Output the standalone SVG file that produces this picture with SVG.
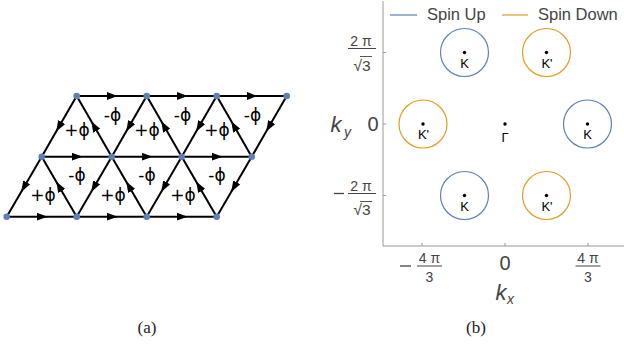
<svg xmlns="http://www.w3.org/2000/svg" width="624" height="352" viewBox="0 0 624 352">
<defs>
<marker id="arr" viewBox="0 0 11 8" refX="5" refY="4" markerWidth="11" markerHeight="8" markerUnits="userSpaceOnUse" orient="auto">
<path d="M0,0 L11,4 L0,8 Z" fill="#000"/>
</marker>
</defs>
<style>
.e{stroke:#000;stroke-width:2;fill:none;marker-mid:url(#arr)}
.nd{fill:#5e81b5}
.ph{font-family:"DejaVu Sans",sans-serif;font-size:17px;text-anchor:middle;fill:#000}
.ax{stroke:#9a9a9a;stroke-width:1;fill:none}
.tl{font-family:"Liberation Sans",Arial,sans-serif;fill:#444;text-anchor:middle}
.up{stroke:#5e81b5;stroke-width:1.2;fill:none}
.dn{stroke:#e19c24;stroke-width:1.2;fill:none}
.pt{fill:#000}
.kl{font-family:"Liberation Sans",Arial,sans-serif;font-size:13px;fill:#000;text-anchor:middle}
.cap{font-family:"Liberation Serif","Times New Roman",serif;font-size:17px;fill:#222;text-anchor:middle}
</style>
<g id="connectors">
<path class="e" d="M76.7,96 L111.7,96 L146.7,96"/>
<path class="e" d="M146.7,96 L181.7,96 L216.7,96"/>
<path class="e" d="M216.7,96 L251.7,96 L286.7,96"/>
<path class="e" d="M41.7,156.7 L76.7,156.7 L111.7,156.7"/>
<path class="e" d="M111.7,156.7 L146.7,156.7 L181.7,156.7"/>
<path class="e" d="M181.7,156.7 L216.7,156.7 L251.7,156.7"/>
<path class="e" d="M6.7,216.7 L41.7,216.7 L76.7,216.7"/>
<path class="e" d="M76.7,216.7 L111.7,216.7 L146.7,216.7"/>
<path class="e" d="M146.7,216.7 L181.7,216.7 L216.7,216.7"/>
<path class="e" d="M76.7,96 L59.2,126.35 L41.7,156.7"/>
<path class="e" d="M146.7,96 L129.2,126.35 L111.7,156.7"/>
<path class="e" d="M216.7,96 L199.2,126.35 L181.7,156.7"/>
<path class="e" d="M286.7,96 L269.2,126.35 L251.7,156.7"/>
<path class="e" d="M41.7,156.7 L24.2,186.7 L6.7,216.7"/>
<path class="e" d="M111.7,156.7 L94.2,186.7 L76.7,216.7"/>
<path class="e" d="M181.7,156.7 L164.2,186.7 L146.7,216.7"/>
<path class="e" d="M251.7,156.7 L234.2,186.7 L216.7,216.7"/>
<path class="e" d="M111.7,156.7 L94.2,126.35 L76.7,96"/>
<path class="e" d="M181.7,156.7 L164.2,126.35 L146.7,96"/>
<path class="e" d="M251.7,156.7 L234.2,126.35 L216.7,96"/>
<path class="e" d="M76.7,216.7 L59.2,186.7 L41.7,156.7"/>
<path class="e" d="M146.7,216.7 L129.2,186.7 L111.7,156.7"/>
<path class="e" d="M216.7,216.7 L199.2,186.7 L181.7,156.7"/>
</g>
<g id="lattice-nodes">
<circle class="nd" cx="76.7" cy="96" r="3.3"/>
<circle class="nd" cx="146.7" cy="96" r="3.3"/>
<circle class="nd" cx="216.7" cy="96" r="3.3"/>
<circle class="nd" cx="286.7" cy="96" r="3.3"/>
<circle class="nd" cx="41.7" cy="156.7" r="3.3"/>
<circle class="nd" cx="111.7" cy="156.7" r="3.3"/>
<circle class="nd" cx="181.7" cy="156.7" r="3.3"/>
<circle class="nd" cx="251.7" cy="156.7" r="3.3"/>
<circle class="nd" cx="6.7" cy="216.7" r="3.3"/>
<circle class="nd" cx="76.7" cy="216.7" r="3.3"/>
<circle class="nd" cx="146.7" cy="216.7" r="3.3"/>
<circle class="nd" cx="216.7" cy="216.7" r="3.3"/>
</g>
<g id="flux-labels">
<text class="ph" x="77" y="135.5">+ϕ</text>
<text class="ph" x="147" y="135.5">+ϕ</text>
<text class="ph" x="217" y="135.5">+ϕ</text>
<text class="ph" x="112.5" y="120.5">-ϕ</text>
<text class="ph" x="182.5" y="120.5">-ϕ</text>
<text class="ph" x="252.5" y="120.5">-ϕ</text>
<text class="ph" x="77" y="180.5">-ϕ</text>
<text class="ph" x="147" y="180.5">-ϕ</text>
<text class="ph" x="217" y="180.5">-ϕ</text>
<text class="ph" x="43" y="200.5">+ϕ</text>
<text class="ph" x="113" y="200.5">+ϕ</text>
<text class="ph" x="183" y="200.5">+ϕ</text>
</g>
<g id="caption-a"><text class="cap" x="147" y="333">(a)</text></g>
<g id="plot-frame">
<path class="ax" d="M383,1 L383,246 L624,246"/>
<path class="ax" d="M383,52.5 h3 M383,124 h3 M383,195.5 h3 M422,246 v-3 M505,246 v-3 M588,246 v-3"/>
</g>
<g id="y-ticks">
<text class="tl" x="361" y="46" font-size="14">2 π</text>
<line x1="348" y1="48.5" x2="376" y2="48.5" stroke="#444" stroke-width="1"/>
<text class="tl" x="362" y="70.5" font-size="15.5">√3</text>
<line x1="360" y1="56.5" x2="372" y2="56.5" stroke="#444" stroke-width="0.9"/>
<text class="tl" x="373" y="131" font-size="20">0</text>
<line x1="334" y1="193.5" x2="344" y2="193.5" stroke="#444" stroke-width="1.3"/>
<text class="tl" x="361" y="190.5" font-size="14">2 π</text>
<line x1="348" y1="193.5" x2="376" y2="193.5" stroke="#444" stroke-width="1"/>
<text class="tl" x="362" y="215" font-size="15.5">√3</text>
<line x1="360" y1="201.5" x2="372" y2="201.5" stroke="#444" stroke-width="0.9"/>
<text class="tl" x="336" y="132" font-size="22" font-style="italic">k</text>
<text class="tl" x="347.5" y="137" font-size="14" font-style="italic">y</text>
</g>
<g id="x-ticks">
<line x1="400" y1="266" x2="411" y2="266" stroke="#444" stroke-width="1.3"/>
<text class="tl" x="429.5" y="263" font-size="14">4 π</text>
<line x1="417" y1="266" x2="442" y2="266" stroke="#444" stroke-width="1"/>
<text class="tl" x="429.5" y="282" font-size="14">3</text>
<text class="tl" x="505" y="270" font-size="20">0</text>
<text class="tl" x="588" y="263" font-size="14">4 π</text>
<line x1="575.5" y1="266" x2="600.5" y2="266" stroke="#444" stroke-width="1"/>
<text class="tl" x="588" y="282" font-size="14">3</text>
<text class="tl" x="501" y="300" font-size="22" font-style="italic">k</text>
<text class="tl" x="510.5" y="304" font-size="14" font-style="italic">x</text>
</g>
<g id="legend">
<line class="up" x1="390" y1="15" x2="417" y2="15"/>
<text class="tl" x="427" y="19.5" font-size="16.5" style="text-anchor:start">Spin Up</text>
<line class="dn" x1="502" y1="15" x2="528" y2="15"/>
<text class="tl" x="538" y="19.5" font-size="16.5" style="text-anchor:start">Spin Down</text>
</g>
<g id="K-top">
<circle class="up" cx="464.5" cy="52.5" r="24"/><circle class="pt" cx="464.5" cy="52.5" r="1.7"/>
<text class="kl" x="464.5" y="67.5">K</text>
</g>
<g id="Kp-top">
<circle class="dn" cx="546.5" cy="52.5" r="24"/><circle class="pt" cx="546.5" cy="52.5" r="1.7"/>
<text class="kl" x="547" y="67.5">K'</text>
</g>
<g id="Kp-left">
<circle class="dn" cx="423" cy="124" r="24"/><circle class="pt" cx="423" cy="124" r="1.7"/>
<text class="kl" x="423.5" y="139">K'</text>
</g>
<g id="Gamma">
<circle class="pt" cx="505" cy="124" r="1.7"/>
<text class="kl" x="505" y="142">Γ</text>
</g>
<g id="K-right">
<circle class="up" cx="587.5" cy="124" r="24"/><circle class="pt" cx="587.5" cy="124" r="1.7"/>
<text class="kl" x="587.5" y="139">K</text>
</g>
<g id="K-bottom">
<circle class="up" cx="464.5" cy="195.5" r="24"/><circle class="pt" cx="464.5" cy="195.5" r="1.7"/>
<text class="kl" x="464.5" y="210.5">K</text>
</g>
<g id="Kp-bottom">
<circle class="dn" cx="546.5" cy="195.5" r="24"/><circle class="pt" cx="546.5" cy="195.5" r="1.7"/>
<text class="kl" x="547" y="210.5">K'</text>
</g>
<g id="caption-b"><text class="cap" x="476" y="333">(b)</text></g>
</svg>
